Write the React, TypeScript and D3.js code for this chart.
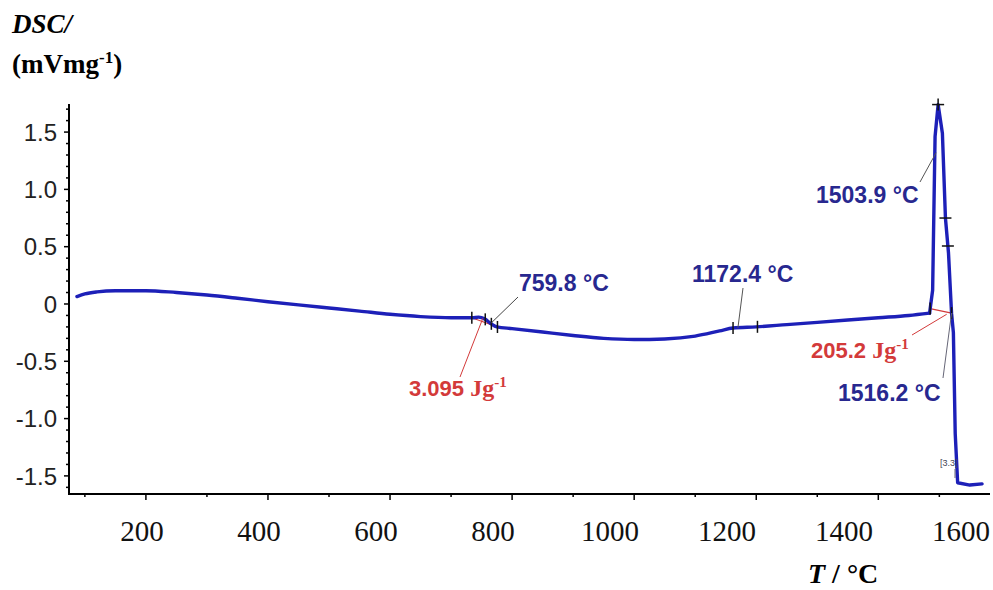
import React from 'react';
import * as d3 from 'd3';

// ---- data ----
const temps = [87, 100, 120, 150, 200, 250, 300, 350, 400, 450, 500, 550, 600, 650, 700, 735, 745, 755, 765, 775, 800, 850, 900, 950, 1000, 1050, 1100, 1140, 1162, 1200, 1250, 1300, 1350, 1400, 1450, 1484, 1489, 1493, 1498, 1505, 1510, 1515, 1520, 1523, 1526, 1530, 1550, 1570];
const dsc = [0.065, 0.088, 0.106, 0.116, 0.116, 0.1, 0.078, 0.05, 0.02, -0.008, -0.035, -0.062, -0.09, -0.11, -0.12, -0.12, -0.115, -0.13, -0.17, -0.2, -0.215, -0.245, -0.275, -0.3, -0.31, -0.305, -0.28, -0.235, -0.21, -0.2, -0.18, -0.16, -0.14, -0.12, -0.1, -0.08, 0.12, 1.46, 1.74, 1.49, 0.75, 0.445, -0.08, -0.25, -1.13, -1.56, -1.58, -1.57];
const peakOnset = 1484; // smooth baseline ends, sharp melting peak begins

const yTickValues = [-1.5, -1.0, -0.5, 0, 0.5, 1.0, 1.5];
const yTickLabels = ['-1.5', '-1.0', '-0.5', '0', '0.5', '1.0', '1.5'];
const xTickLabels = [200, 400, 600, 800, 1000, 1200, 1400, 1600];

const markerTemps = [734, 756, 766, 776, 1162, 1202, 1485, 1498, 1510, 1514, 1520];
const markerKinds = ['v', 'v', 'v', 'v', 'v', 'v', 'v', 'c', 'h', 'h', 'v'];

const W = 993;
const H = 590;
const x = d3.scaleLinear().domain([74, 1583]).range([69, 990]);
const y = d3.scaleLinear().domain([-1.658, 1.745]).range([494, 104]);
const labelX = d3.scaleLinear().domain([200, 1600]).range([142, 961]);

const valueAt = (t: number) => {
  for (let i = 0; i < temps.length - 1; i++) {
    if (t >= temps[i] && t <= temps[i + 1]) {
      const f = (t - temps[i]) / (temps[i + 1] - temps[i]);
      return dsc[i] + f * (dsc[i + 1] - dsc[i]);
    }
  }
  return dsc[dsc.length - 1];
};

const BLUE = '#1d20b8';
const NAVY = '#28288f';
const RED = '#d33a3a';

export default function App() {
  const split = temps.indexOf(peakOnset);
  const idx = d3.range(temps.length);
  const smoothLine = d3
    .line<number>()
    .x((i) => x(temps[i]))
    .y((i) => y(dsc[i]))
    .curve(d3.curveMonotoneX);
  const sharpLine = d3
    .line<number>()
    .x((i) => x(temps[i]))
    .y((i) => y(dsc[i]))
    .curve(d3.curveLinear);
  const path1 = smoothLine(idx.filter((i) => i <= split)) || '';
  const path2 = sharpLine(idx.filter((i) => i >= split)) || '';

  const minorX = d3.range(100, 1600, 100);
  const minorY = d3.range(-16, 18).map((v) => v / 10);

  const px = (t: number) => x(t);
  const py = (t: number) => y(valueAt(t));

  const sans = '"Liberation Sans", Arial, sans-serif';
  const serif = '"Liberation Serif", "Times New Roman", serif';

  return (
    <svg width={W} height={H} style={{ position: 'absolute', left: 0, top: 0, background: '#fff' }}>
      {/* y axis title */}
      <text x={12} y={33} fontFamily={serif} fontSize={27} fontWeight="bold" fontStyle="italic">
        DSC/
      </text>
      <text x={12} y={73} fontFamily={serif} fontSize={27} fontWeight="bold">
        (mVmg<tspan dy={-10} fontSize={17}>-1</tspan>
        <tspan dy={10}>)</tspan>
      </text>

      {/* axes */}
      <line x1={x.range()[0]} x2={x.range()[0]} y1={y.range()[1]} y2={y.range()[0]} stroke="#000" strokeWidth={2} />
      <line x1={x.range()[0] - 1} x2={x.range()[1]} y1={y.range()[0]} y2={y.range()[0]} stroke="#000" strokeWidth={2} />

      {minorY.map((v) => {
        const major = Math.abs(Math.round(v * 10) % 5) === 0;
        return (
          <line key={'yt' + v} x1={x.range()[0] - (major ? 5 : 3)} x2={x.range()[0]} y1={y(v)} y2={y(v)} stroke="#000" strokeWidth={1.5} />
        );
      })}
      {yTickValues.map((v, i) => (
        <text key={'yl' + v} x={57} y={y(v)} dy="0.36em" textAnchor="end" fontFamily={sans} fontSize={24} fill="#222">
          {yTickLabels[i]}
        </text>
      ))}

      {minorX.map((t) => {
        const major = t % 200 === 0;
        return <line key={'xt' + t} x1={x(t)} x2={x(t)} y1={y.range()[0]} y2={y.range()[0] + (major ? 6 : 3)} stroke="#000" strokeWidth={1.5} />;
      })}
      {xTickLabels.map((t) => (
        <text key={'xl' + t} x={labelX(t)} y={541} textAnchor="middle" fontFamily={serif} fontSize={29} fill="#111">
          {t}
        </text>
      ))}
      <text x={808} y={583} fontFamily={serif} fontSize={28} fontWeight="bold">
        <tspan fontStyle="italic">T</tspan> / °C
      </text>

      {/* red integration baselines */}
      <line x1={px(734)} x2={px(776)} y1={py(734)} y2={py(776)} stroke={RED} strokeWidth={1.2} />
      <line x1={px(1485)} x2={px(1520)} y1={py(1485)} y2={py(1520)} stroke={RED} strokeWidth={1.2} />

      {/* curve */}
      <path d={path1} fill="none" stroke={BLUE} strokeWidth={3.4} strokeLinejoin="round" strokeLinecap="round" />
      <path d={path2} fill="none" stroke={BLUE} strokeWidth={3.4} strokeLinejoin="round" strokeLinecap="round" />

      {/* markers */}
      {markerTemps.map((t, i) => {
        const cx = px(t);
        const cy = py(t);
        const k = markerKinds[i];
        return (
          <g key={'m' + t} stroke="#111" strokeWidth={1.5}>
            {(k === 'v' || k === 'c') && <line x1={cx} x2={cx} y1={cy - 6} y2={cy + 6} />}
            {(k === 'h' || k === 'c') && <line x1={cx - 6} x2={cx + 6} y1={cy} y2={cy} />}
          </g>
        );
      })}

      {/* leader lines */}
      <g strokeWidth={1} fill="none">
        <line x1={518} y1={297} x2={px(765)} y2={py(765)} stroke="#444" />
        <line x1={460} y1={377} x2={px(752)} y2={py(752)} stroke={RED} />
        <line x1={743} y1={288} x2={px(1170)} y2={py(1170)} stroke="#555" />
        <line x1={920} y1={182} x2={x(1493) + 1} y2={y(1.32)} stroke="#555" />
        <line x1={912} y1={335} x2={px(1512)} y2={y(-0.09)} stroke={RED} />
        <line x1={943} y1={378} x2={px(1520)} y2={py(1520)} stroke="#667" />
        <line x1={955} y1={469} x2={955} y2={478} stroke="#667" />
      </g>

      {/* annotations */}
      <text x={519} y={291} fontFamily={sans} fontSize={23} fontWeight="bold" fill={NAVY}>759.8 °C</text>
      <text x={692} y={282} fontFamily={sans} fontSize={23} fontWeight="bold" fill={NAVY}>1172.4 °C</text>
      <text x={816} y={203} fontFamily={sans} fontSize={23} fontWeight="bold" fill={NAVY}>1503.9 °C</text>
      <text x={838} y={401} fontFamily={sans} fontSize={23} fontWeight="bold" fill={NAVY}>1516.2 °C</text>

      <text x={409} y={396} fill={RED} fontWeight="bold">
        <tspan fontFamily={sans} fontSize={22}>3.095 </tspan>
        <tspan fontFamily={serif} fontSize={24}>Jg</tspan>
        <tspan fontFamily={serif} fontSize={15} dy={-9}>-1</tspan>
      </text>
      <text x={811} y={358} fill={RED} fontWeight="bold">
        <tspan fontFamily={sans} fontSize={22}>205.2 </tspan>
        <tspan fontFamily={serif} fontSize={24}>Jg</tspan>
        <tspan fontFamily={serif} fontSize={15} dy={-9}>-1</tspan>
      </text>

      <text x={940} y={466} fontFamily={sans} fontSize={9} fill="#445">[3.3]</text>
    </svg>
  );
}
